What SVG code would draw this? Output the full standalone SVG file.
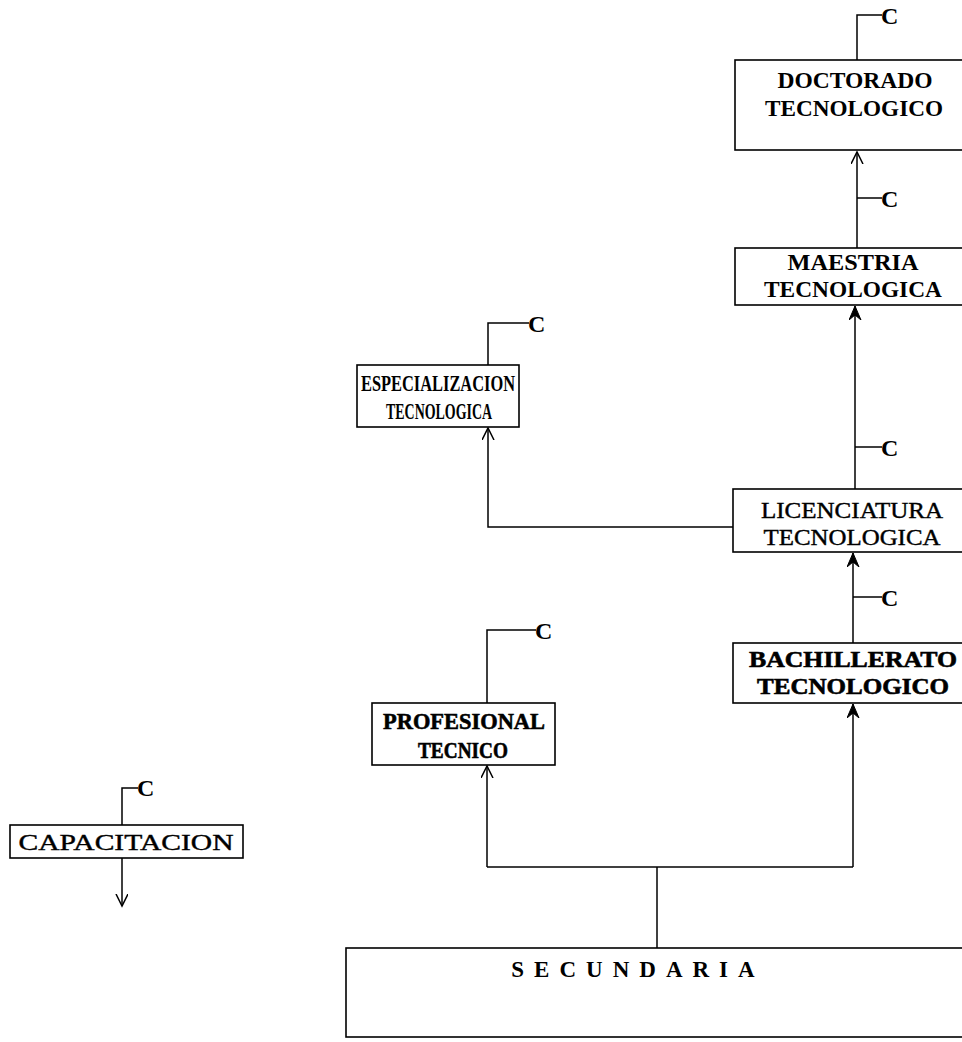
<svg xmlns="http://www.w3.org/2000/svg" width="962" height="1042" viewBox="0 0 962 1042">
<style>
.bx{fill:#fff;stroke:#000;stroke-width:1.6}
.ln{fill:none;stroke:#000;stroke-width:1.5}
text{font-family:"Liberation Serif","Times New Roman",serif;font-size:23px;fill:#000}
.t{font-weight:bold;text-anchor:middle}
.r{font-weight:normal;text-anchor:middle;stroke:#000;stroke-width:0.4}
.c{font-weight:bold;text-anchor:start;font-size:24px}
</style>
<defs>
<marker id="open" markerUnits="userSpaceOnUse" markerWidth="20" markerHeight="20" refX="12" refY="6" orient="auto">
<path d="M0,0 L12,6 L0,12" fill="none" stroke="#000" stroke-width="1.5"/>
</marker>
<marker id="bold" markerUnits="userSpaceOnUse" markerWidth="20" markerHeight="20" refX="14" refY="6" orient="auto">
<path d="M0,0 L14,6 L0,12 L5,6 Z" fill="#000" stroke="#000" stroke-width="1"/>
</marker>
</defs>
<rect width="962" height="1042" fill="#fff"/>
<g id="connectors">
<path class="ln" d="M857,60 V15 H882"/>
<path class="ln" d="M857,248 V152" marker-end="url(#open)"/>
<path class="ln" d="M857,198 H882"/>
<path class="ln" d="M855,489 V306" marker-end="url(#bold)"/>
<path class="ln" d="M855,447 H882"/>
<path class="ln" d="M853,643 V553" marker-end="url(#bold)"/>
<path class="ln" d="M853,597 H882"/>
<path class="ln" d="M733,527 H488 V428" marker-end="url(#open)"/>
<path class="ln" d="M488,365 V323 H529"/>
<path class="ln" d="M487,703 V630 H536"/>
<path class="ln" d="M657,948 V867"/>
<path class="ln" d="M487,867 H853"/>
<path class="ln" d="M487,867 V766" marker-end="url(#open)"/>
<path class="ln" d="M853,867 V704" marker-end="url(#bold)"/>
<path class="ln" d="M122,825 V788 H138"/>
<path class="ln" d="M122,858 V906" marker-end="url(#open)"/>
<text class="c" x="881" y="24">C</text>
<text class="c" x="881" y="207">C</text>
<text class="c" x="881" y="456">C</text>
<text class="c" x="881" y="606">C</text>
<text class="c" x="528" y="332">C</text>
<text class="c" x="535" y="639">C</text>
<text class="c" x="137" y="796">C</text>
</g>
<g id="doctorado">
<rect class="bx" x="735" y="60" width="240" height="90"/>
<text class="t" x="855" y="88" textLength="155" lengthAdjust="spacingAndGlyphs">DOCTORADO</text>
<text class="t" x="854" y="116" textLength="178" lengthAdjust="spacingAndGlyphs">TECNOLOGICO</text>
</g>
<g id="maestria">
<rect class="bx" x="735" y="248" width="240" height="57"/>
<text class="t" x="853" y="270" textLength="131" lengthAdjust="spacingAndGlyphs">MAESTRIA</text>
<text class="t" x="853" y="297" textLength="178" lengthAdjust="spacingAndGlyphs">TECNOLOGICA</text>
</g>
<g id="licenciatura">
<rect class="bx" x="733" y="489" width="240" height="63"/>
<text class="r" x="852" y="518" textLength="182" lengthAdjust="spacingAndGlyphs">LICENCIATURA</text>
<text class="r" x="852" y="545" textLength="177" lengthAdjust="spacingAndGlyphs">TECNOLOGICA</text>
</g>
<g id="bachillerato">
<rect class="bx" x="733" y="643" width="240" height="60"/>
<text class="t" x="853" y="667" stroke="#000" stroke-width="0.6" textLength="208" lengthAdjust="spacingAndGlyphs">BACHILLERATO</text>
<text class="t" x="853" y="694" stroke="#000" stroke-width="0.6" textLength="192" lengthAdjust="spacingAndGlyphs">TECNOLOGICO</text>
</g>
<g id="especializacion">
<rect class="bx" x="357" y="365" width="162" height="62"/>
<text class="t" x="438" y="391" font-size="22" textLength="154" lengthAdjust="spacingAndGlyphs">ESPECIALIZACION</text>
<text class="t" x="439" y="419" font-size="22" textLength="106" lengthAdjust="spacingAndGlyphs">TECNOLOGICA</text>
</g>
<g id="profesional">
<rect class="bx" x="372" y="703" width="183" height="62"/>
<text class="t" x="464" y="729" stroke="#000" stroke-width="0.6" textLength="162" lengthAdjust="spacingAndGlyphs">PROFESIONAL</text>
<text class="t" x="463" y="758" stroke="#000" stroke-width="0.6" textLength="90" lengthAdjust="spacingAndGlyphs">TECNICO</text>
</g>
<g id="capacitacion">
<rect class="bx" x="10" y="825" width="233" height="33"/>
<text class="r" x="126" y="850" textLength="215" lengthAdjust="spacingAndGlyphs">CAPACITACION</text>
</g>
<g id="secundaria">
<rect class="bx" x="346" y="948" width="640" height="89"/>
<text class="t" x="638" y="977" font-size="20" letter-spacing="10">SECUNDARIA</text>
</g>
</svg>
